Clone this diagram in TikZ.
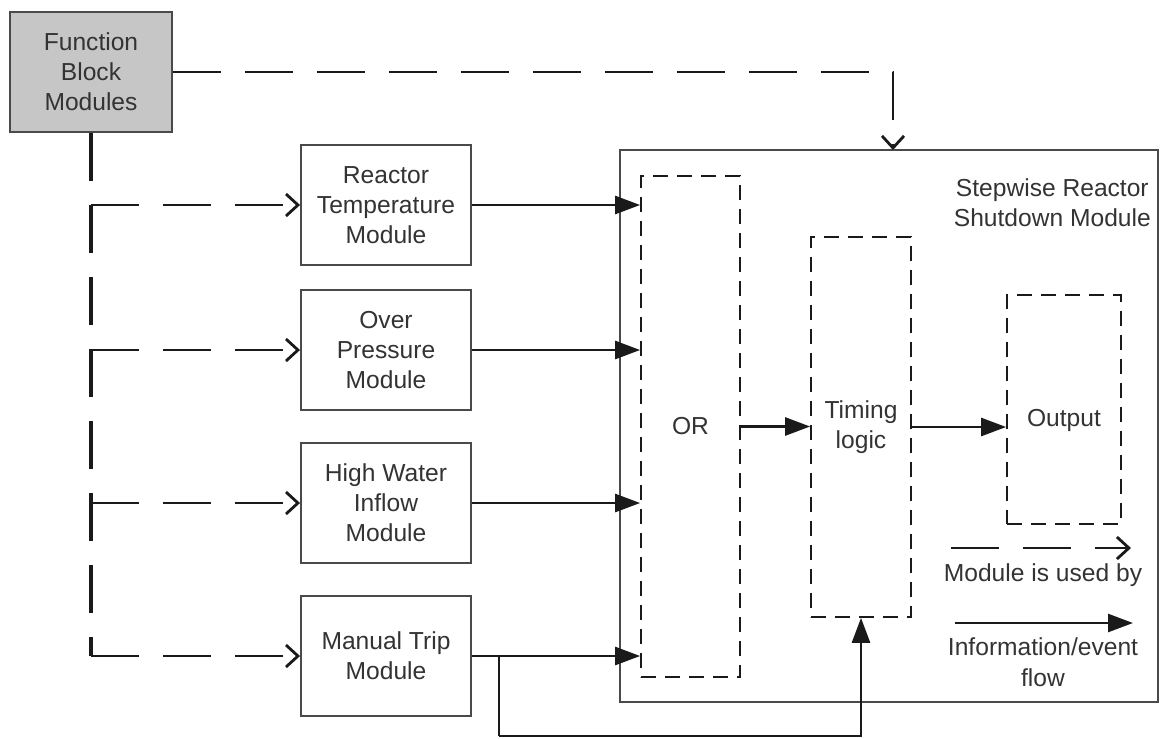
\documentclass[tikz,border=0pt]{standalone}
\usepackage{fontspec}
\setmainfont{Liberation Sans}
\usepackage{tikz}
\usetikzlibrary{arrows.meta,positioning,calc}
\definecolor{rsInk}{HTML}{1A1A1A}
\definecolor{rsEdge}{HTML}{4A4A4A}
\definecolor{rsText}{HTML}{333333}
\definecolor{rsFbm}{HTML}{C6C6C6}
\tikzset{
  modbox/.style={rectangle,draw=rsEdge,line width=1.1pt,fill=white,
    minimum width=3.4cm,minimum height=2.4cm,align=center,
    font=\fontsize{14}{17}\selectfont,text=rsText},
  fbmbox/.style={modbox,fill=rsFbm,minimum width=3.24cm},
  logicbox/.style={rectangle,draw=rsInk,line width=1pt,
    dash pattern=on 0.3cm off 0.18cm,align=center,
    font=\fontsize{14}{17}\selectfont,text=rsText},
  lbl/.style={align=center,font=\fontsize{14}{17.5}\selectfont,text=rsText},
  flow/.style={-{Triangle[length=0.5cm,width=0.36cm]},line width=1.5pt,color=rsInk},
  uses/.style={-{Straight Barb[length=0.24cm,width=0.44cm]},line width=1.6pt,
    color=rsInk,dash pattern=on 0.96cm off 0.48cm},
  trunk/.style={line width=1.9pt,color=rsInk,dash pattern=on 0.96cm off 0.48cm},
}
\begin{document}
\begin{tikzpicture}[x=0.02cm,y=-0.02cm]
  \useasboundingbox (0,0) rectangle (1160,738);

  % source of the function blocks
  \node[fbmbox] (fbm) at (91,72) {Function\\Block\\Modules};

  % input modules
  \node[modbox] (rt)  at (386,205) {Reactor\\Temperature\\Module};
  \node[modbox] (op)  at (386,350) {Over\\Pressure\\Module};
  \node[modbox] (hwi) at (386,503) {High Water\\Inflow\\Module};
  \node[modbox] (mt)  at (386,656) {Manual Trip\\Module};

  % stepwise shutdown module and its parts
  \node[rectangle,draw=rsEdge,line width=1.1pt,minimum width=10.76cm,
    minimum height=11.04cm] (srsm) at (889,426) {};
  \node[lbl,anchor=north east] (srsmlbl) at (1157,172)
    {Stepwise Reactor\\Shutdown Module};
  \node[logicbox,minimum width=1.98cm,minimum height=10.02cm] (or) at (690.5,426.5) {OR};
  \node[logicbox,minimum width=2cm,minimum height=7.6cm] (tl) at (861,427) {Timing\\logic};
  \node[logicbox,minimum width=2.28cm,minimum height=4.58cm] (out) at (1064,409.5)
    {\raisebox{-0.33cm}[0pt][0pt]{Output}};

  % used-by links
  \coordinate (srsmin) at (893,150);
  \coordinate (tr) at (91,656);
  \draw[uses] (fbm.east) -| (srsmin);
  \draw[trunk] (fbm.south) -- (tr);
  \foreach \m in {rt,op,hwi,mt}
    \draw[uses] (\m.west -| tr) -- (\m.west);

  % information flow
  \foreach \m in {rt,op,hwi,mt}
    \draw[flow] (\m.east) -- (\m.east -| or.west);
  \draw[flow] (or.east) -- (or.east -| tl.west);
  \draw[flow] (tl.east) -- (tl.east -| out.west);
  \coordinate (tap) at (499,656);
  \coordinate (tapdown) at (499,736);
  \draw[line width=1.5pt,color=rsInk] (tap) -- (tapdown);
  \draw[flow] (tapdown) -| (tl.south);

  % legend
  \coordinate (lgua) at (951,548);
  \coordinate (lgub) at (1131,548);
  \coordinate (lgfa) at (955,623);
  \coordinate (lgfb) at (1133,623);
  \draw[uses] (lgua) -- (lgub);
  \node[lbl] (lguse) at (1043,575) {Module is used by};
  \draw[flow] (lgfa) -- (lgfb);
  \node[lbl] (lgflow) at (1043,662) {Information/event\\flow};
\end{tikzpicture}
\end{document}
